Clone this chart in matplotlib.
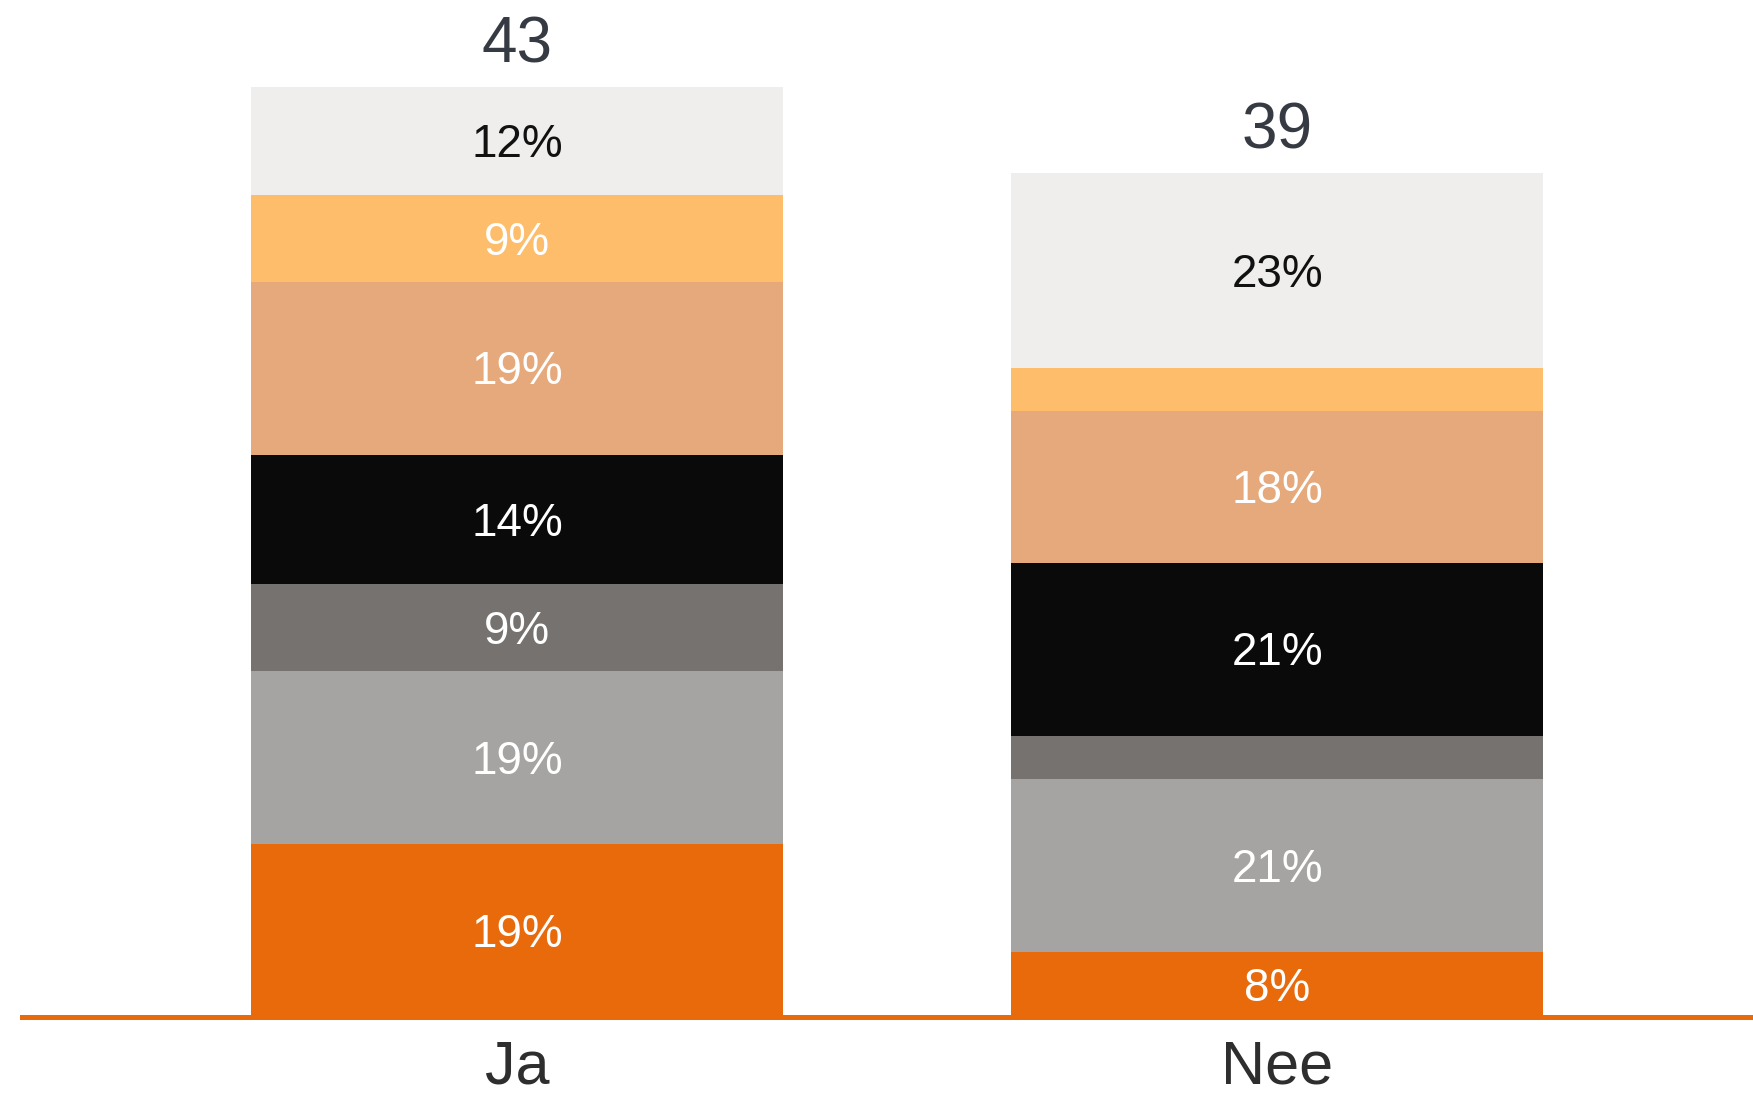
import matplotlib
matplotlib.use("Agg")
import matplotlib.pyplot as plt
import numpy as np

plt.rcParams['font.family'] = ['Liberation Sans', 'DejaVu Sans']

categories = ['Ja', 'Nee']
totals = [43, 39]
# aantal respondenten per segment, van onder naar boven
ja_counts = [8, 8, 4, 6, 8, 4, 5]
nee_counts = [3, 8, 2, 8, 7, 2, 9]
ja_labels = ['19%', '19%', '9%', '14%', '19%', '9%', '12%']
nee_labels = ['8%', '21%', '', '21%', '18%', '', '23%']

colors = ['#E96A0A', '#A5A4A2', '#76726F', '#0A0A0A', '#E5A97C', '#FDBD6B', '#EFEEED']
text_colors = ['white', 'white', 'white', 'white', 'white', 'white', '#111111']

fig = plt.figure(figsize=(17.53, 10.97), dpi=100)
ax = fig.add_axes([0, 0.0729, 1, 0.9271])

x = np.arange(len(categories))
width = 0.699
counts = [ja_counts, nee_counts]
labels = [ja_labels, nee_labels]

for i in range(len(categories)):
    bottom = 0
    for j, c in enumerate(counts[i]):
        ax.bar(x[i], c, width, bottom=bottom, color=colors[j], linewidth=0, zorder=3)
        if labels[i][j]:
            ax.annotate(labels[i][j], (x[i], bottom + c / 2), xytext=(0, -3), textcoords='offset points',
                        ha='center', va='center', fontsize=33, color=text_colors[j], zorder=4)
        bottom += c
    ax.annotate(str(totals[i]), (x[i], totals[i]), xytext=(0, 30), textcoords='offset points',
                ha='center', va='center', fontsize=46, color='#363A42')
    ax.annotate(categories[i], (x[i], 0), xytext=(0, -47.5), textcoords='offset points',
                ha='center', va='baseline', fontsize=44, color='#2E2E2E', annotation_clip=False)

ax.axhline(0, xmin=22 / 1753, xmax=1, color='#E96A0A', linewidth=3.6, zorder=2, clip_on=False)

ax.set_xlim(-0.680, 1.626)
ax.set_ylim(0, 47.02)
ax.axis('off')

fig.savefig('out.png', dpi=100, facecolor='white')
